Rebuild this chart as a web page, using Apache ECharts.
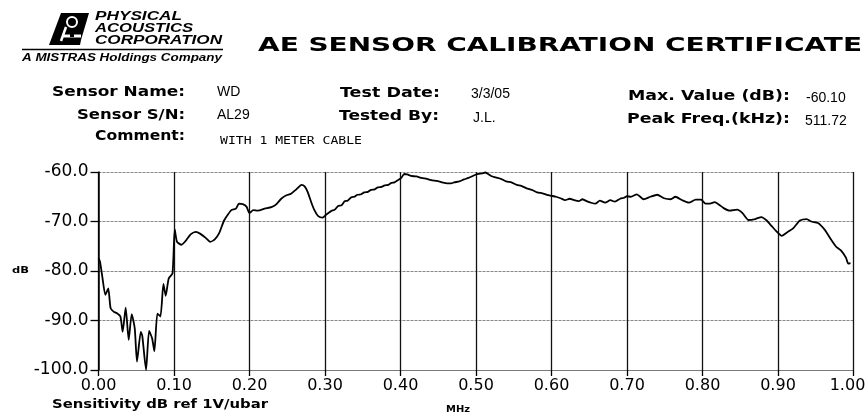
<!DOCTYPE html>
<html>
<head>
<meta charset="utf-8">
<script src="https://cdn.jsdelivr.net/npm/echarts@6/dist/echarts.min.js"></script>
<style>
  html, body { margin: 0; padding: 0; background: #fff; }
  #chart { width: 868px; height: 416px; }
</style>
</head>
<body>
<div id="chart"></div>
<script>
// Frequency response of the sensor (MHz vs. sensitivity in dB ref 1V/ubar)
const freqMHz = [
  0.000, 0.002, 0.005, 0.009, 0.011, 0.013, 0.016, 0.020, 0.024, 0.029,
  0.032, 0.036, 0.040, 0.044, 0.048, 0.051, 0.056, 0.058, 0.063, 0.067,
  0.071, 0.074, 0.078, 0.082, 0.086, 0.089, 0.093, 0.098, 0.101, 0.104,
  0.110, 0.116, 0.122, 0.129, 0.135, 0.142, 0.148, 0.154, 0.160, 0.166,
  0.171, 0.176, 0.182, 0.186, 0.191, 0.196, 0.200, 0.205, 0.211, 0.220,
  0.229, 0.235, 0.242, 0.249, 0.255, 0.262, 0.269, 0.273, 0.277, 0.282,
  0.286, 0.291, 0.297, 0.301, 0.308, 0.313, 0.317, 0.322, 0.326, 0.330,
  0.335, 0.339, 0.343, 0.348, 0.352, 0.357, 0.361, 0.366, 0.370, 0.375,
  0.379, 0.384, 0.388, 0.392, 0.397, 0.401, 0.405, 0.409, 0.414, 0.421,
  0.428, 0.435, 0.442, 0.448, 0.455, 0.462, 0.467, 0.471, 0.478, 0.484,
  0.490, 0.497, 0.503, 0.508, 0.512, 0.516, 0.520, 0.526, 0.533, 0.540,
  0.547, 0.554, 0.560, 0.567, 0.574, 0.581, 0.588, 0.594, 0.600, 0.606,
  0.612, 0.618, 0.624, 0.630, 0.636, 0.641, 0.648, 0.652, 0.658, 0.664,
  0.671, 0.678, 0.684, 0.691, 0.696, 0.700, 0.705, 0.713, 0.722, 0.731,
  0.740, 0.749, 0.758, 0.764, 0.773, 0.782, 0.791, 0.798, 0.804, 0.810,
  0.816, 0.822, 0.828, 0.836, 0.846, 0.853, 0.861, 0.870, 0.878, 0.885,
  0.892, 0.898, 0.905, 0.911, 0.920, 0.929, 0.938, 0.944, 0.953, 0.962,
  0.970, 0.977, 0.983, 0.990, 0.993, 0.996
];
const sensitivityDb = [
  -77.4, -78.1, -81.1, -84.8, -84.2, -83.5, -87.5, -88.2, -88.5, -89.2,
  -92.3, -87.4, -93.9, -88.7, -91.6, -98.3, -92.3, -93.1, -100.0, -92.1,
  -93.6, -96.2, -88.6, -89.2, -82.6, -85.0, -81.5, -80.5, -71.6, -74.1,
  -74.7, -73.8, -72.6, -72.1, -72.5, -73.3, -74.1, -73.6, -72.3, -69.9,
  -68.7, -67.7, -67.4, -66.4, -66.5, -67.0, -68.3, -67.7, -67.8, -67.4,
  -67.1, -66.6, -65.4, -64.7, -64.4, -63.5, -62.6, -62.9, -64.0, -66.2,
  -67.7, -68.9, -69.2, -68.7, -67.9, -67.6, -66.9, -66.7, -65.9, -65.8,
  -65.1, -65.0, -64.6, -64.5, -64.1, -64.0, -63.6, -63.5, -63.1, -63.0,
  -62.7, -62.6, -62.2, -62.1, -61.6, -61.2, -60.4, -60.5, -60.8, -60.9,
  -61.2, -61.4, -61.7, -61.8, -62.1, -62.3, -62.3, -62.1, -61.9, -61.5,
  -61.2, -60.7, -60.4, -60.3, -60.1, -60.4, -60.8, -61.1, -61.4, -61.9,
  -62.1, -62.6, -62.8, -63.3, -63.6, -64.1, -64.3, -64.6, -64.8, -65.0,
  -65.3, -65.7, -65.4, -65.7, -65.9, -65.5, -66.0, -66.2, -66.4, -65.8,
  -66.2, -65.7, -66.0, -65.4, -65.2, -64.9, -65.0, -64.5, -65.5, -65.0,
  -64.6, -65.3, -65.5, -65.0, -65.7, -66.2, -65.6, -65.6, -66.4, -66.4,
  -66.1, -66.6, -67.3, -67.8, -67.6, -68.3, -69.7, -69.5, -69.1, -69.8,
  -71.0, -72.0, -72.9, -72.3, -71.4, -69.8, -69.5, -70.0, -70.3, -71.7,
  -73.6, -75.1, -75.8, -77.3, -78.5, -78.4
];

// Axis ranges and tick steps
const xRange = [0, 1.0];
const xStep = 0.1;
const yRange = [-100, -60];
const yStep = 10;

// Certificate header fields
const headerLabels = [
  ['Sensor Name:', 'WD'],
  ['Sensor S/N:', 'AL29'],
  ['Comment:', 'WITH 1 METER CABLE']
];
const testLabels = [
  ['Test Date:', '3/3/05'],
  ['Tested By:', 'J.L.']
];
const resultLabels = [
  ['Max. Value (dB):', '-60.10'],
  ['Peak Freq.(kHz):', '511.72']
];

const measureCtx = document.createElement('canvas').getContext('2d');
// Text element stretched horizontally to a given width
function fitText(text, x, y, width, font, align) {
  measureCtx.font = font;
  const w = measureCtx.measureText(text).width;
  return {
    type: 'text', x: x, y: y, scaleX: width / w,
    style: { text: text, font: font, fill: '#000', textAlign: align || 'left', textVerticalAlign: 'middle' }
  };
}
function plainText(text, x, y, font, align) {
  return {
    type: 'text', x: x, y: y,
    style: { text: text, font: font, fill: '#000', textAlign: align || 'left', textVerticalAlign: 'middle' }
  };
}

const boldLabel = 'bold 14px "DejaVu Sans"';
const valueFont = '14px "Liberation Sans"';

const graphics = [
  // company emblem
  { type: 'polygon', shape: { points: [[61, 13], [89, 13], [81, 40], [80, 45], [49, 45]] }, style: { fill: '#000' } },
  { type: 'circle', shape: { cx: 72, cy: 22, r: 5 }, style: { fill: 'none', stroke: '#fff', lineWidth: 2 } },
  { type: 'line', shape: { x1: 66, y1: 27, x2: 61, y2: 41 }, style: { stroke: '#fff', lineWidth: 2.5 } },
  { type: 'line', shape: { x1: 62, y1: 36, x2: 81, y2: 36 }, style: { stroke: '#fff', lineWidth: 3 } },
  { type: 'rect', shape: { x: 70, y: 34, width: 4, height: 3 }, style: { fill: '#000' } },
  fitText('PHYSICAL', 95, 17, 87, 'italic bold 12px "Liberation Sans"'),
  fitText('ACOUSTICS', 95, 29, 98, 'italic bold 12px "Liberation Sans"'),
  fitText('CORPORATION', 95, 41, 127, 'italic bold 12px "Liberation Sans"'),
  { type: 'line', shape: { x1: 22, y1: 49.5, x2: 223, y2: 49.5 }, style: { stroke: '#000', lineWidth: 1.5 } },
  fitText('A MISTRAS Holdings Company', 22, 58, 200, 'italic bold 10px "Liberation Sans"'),
  // title
  fitText('AE SENSOR CALIBRATION CERTIFICATE', 258, 46, 604, 'bold 20px "DejaVu Sans"'),
  // header rows
  fitText(headerLabels[0][0], 185, 92, 133, boldLabel, 'right'),
  plainText(headerLabels[0][1], 217, 92, valueFont),
  fitText(headerLabels[1][0], 185, 115, 108, boldLabel, 'right'),
  plainText(headerLabels[1][1], 217, 115, valueFont),
  fitText(headerLabels[2][0], 185, 136, 90, boldLabel, 'right'),
  fitText(headerLabels[2][1], 220, 141, 142, '10px "DejaVu Sans Mono"'),
  fitText(testLabels[0][0], 440, 93, 100, boldLabel, 'right'),
  plainText(testLabels[0][1], 471, 94, valueFont),
  fitText(testLabels[1][0], 439, 116, 100, boldLabel, 'right'),
  plainText(testLabels[1][1], 473, 118, valueFont),
  fitText(resultLabels[0][0], 790, 96, 162, boldLabel, 'right'),
  plainText(resultLabels[0][1], 806, 98, valueFont),
  fitText(resultLabels[1][0], 790, 119, 163, boldLabel, 'right'),
  plainText(resultLabels[1][1], 805, 121, valueFont),
  // axis captions
  fitText('dB', 12, 271, 17, 'bold 9px "DejaVu Sans"'),
  fitText('Sensitivity dB ref 1V/ubar', 52, 405, 216, 'bold 13px "DejaVu Sans"'),
  fitText('MHz', 446, 410, 24, 'bold 9px "DejaVu Sans"')
];

const chart = echarts.init(document.getElementById('chart'), null, { renderer: 'canvas' });
chart.setOption({
  animation: false,
  backgroundColor: '#fff',
  grid: { left: 98.5, right: 14.5, top: 172, bottom: 46, containLabel: false, outerBoundsMode: 'none' },
  xAxis: {
    type: 'value', min: xRange[0], max: xRange[1], interval: xStep,
    axisLine: { show: true, lineStyle: { color: '#777', width: 1.2, type: [3, 1] } },
    axisTick: { show: true, length: 6, lineStyle: { color: '#000', width: 1.3 } },
    axisLabel: {
      margin: 8, color: '#000', fontFamily: 'DejaVu Sans', fontSize: 16,
      // the last label is nudged left so it stays on the page
      formatter: v => v >= xRange[1] ? '{last|' + v.toFixed(2) + '}' : v.toFixed(2),
      rich: { last: { fontFamily: 'DejaVu Sans', fontSize: 16, color: '#000', padding: [0, 12, 0, 0] } }
    },
    splitLine: { show: true, lineStyle: { color: '#111', width: 1.3 } }
  },
  yAxis: {
    type: 'value', min: yRange[0], max: yRange[1], interval: yStep,
    axisLine: { show: true, lineStyle: { color: '#000', width: 1.5 } },
    axisTick: { show: true, inside: false, length: 8, lineStyle: { color: '#000', width: 1.3 } },
    axisLabel: {
      margin: 10, color: '#000', fontFamily: 'DejaVu Sans', fontSize: 17,
      formatter: v => v.toFixed(1)
    },
    splitLine: { show: true, lineStyle: { color: '#888', width: 1, type: [3, 1] } }
  },
  series: [{
    type: 'line',
    data: freqMHz.map((f, i) => [f, sensitivityDb[i]]),
    showSymbol: false,
    symbol: 'none',
    smooth: 0.2,
    lineStyle: { color: '#000', width: 1.8 }
  }],
  graphic: graphics
});
</script>
</body>
</html>
